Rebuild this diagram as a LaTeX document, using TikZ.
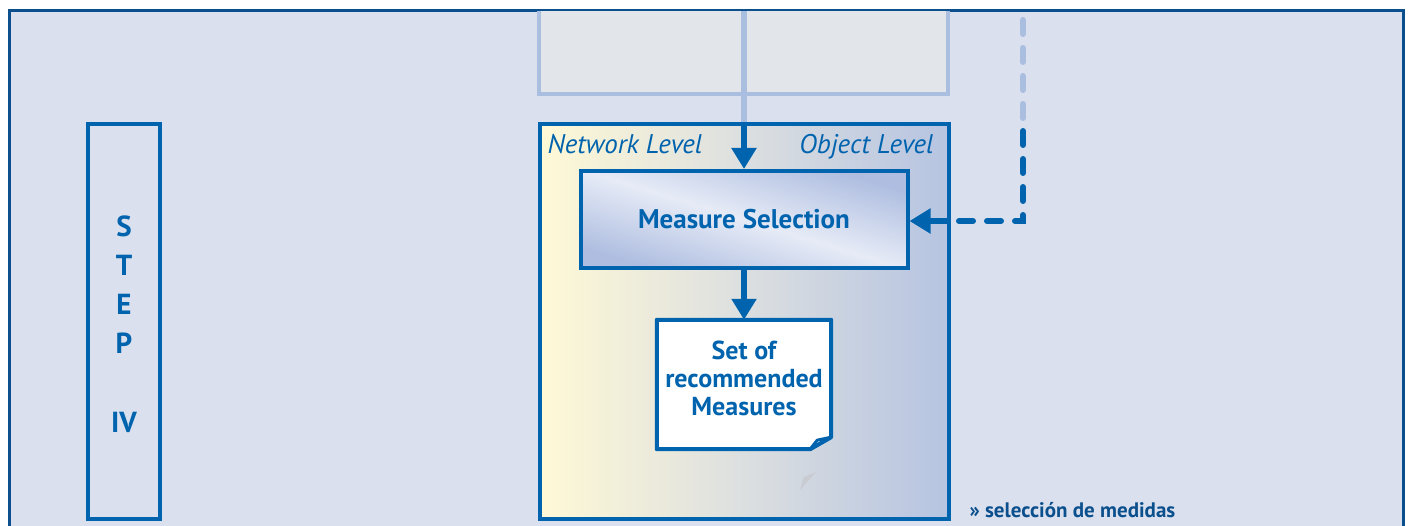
\documentclass[tikz,border=0pt]{standalone}
\usepackage{fontspec}
\setmainfont{PT Sans}
\usetikzlibrary{arrows.meta, positioning, calc}

\definecolor{framenavy}{HTML}{0B4F8D}
\definecolor{stepblue}{HTML}{0063AE}
\definecolor{panelbg}{HTML}{DAE0EE}
\definecolor{gridfill}{HTML}{E2E5EA}
\definecolor{gridline}{HTML}{AABEE0}
\definecolor{netyellow}{HTML}{FFF9D6}
\definecolor{levelmid}{HTML}{DCDFE0}
\definecolor{objblue}{HTML}{B6C4E1}
\definecolor{selmid}{HTML}{E6EBF6}
\definecolor{seledge}{HTML}{AEBDE0}
\definecolor{shadowgrey}{HTML}{C8CCD2}

\begin{document}
\begin{tikzpicture}[x=1pt, y=-1pt,
      frame/.style={rectangle, draw=stepblue, line width=4pt, inner sep=0pt},
      conn/.style={stepblue, line width=6pt, -{Triangle[width=24pt, length=21pt]}},
      feedback/.style={line width=6pt, line cap=round, dash pattern=on 14pt off 14pt},
      label/.style={text=stepblue, font=\fontsize{27}{32}\selectfont\bfseries}]

      \useasboundingbox (0,0) rectangle (1408,526);
      \fill[white] (0,0) rectangle (1408,526);

      % Panel
      \fill[panelbg] (9,11) rectangle (1403,526);
      \draw[framenavy, line width=3pt] (9,526) -- (9,11) -- (1403,11) -- (1403,526);

      % Upper grid (cut off by the panel)
      \fill[gridfill] (539,11) rectangle (948,94);
      \draw[gridline, line width=4.5pt] (539,11) -- (539,94) -- (948,94) -- (948,11);
      \coordinate (gridin) at (744,11);
      \coordinate (gridout) at (744,122);
      \draw[gridline, line width=6pt] (gridin) -- (gridout);

      % Step column
      \node[frame, minimum width=72.5pt, minimum height=394.5pt] (stepcol) at (123.75,321.75) {};
      \foreach \l [count=\i] in {S,T,E,P} {
        \node[label, anchor=base] (step\i) at (124,{237+38.7*(\i-1)}) {\fontsize{29}{32}\selectfont\l};
      }
      \node[label, anchor=base] (stepnum) at (124,432) {\fontsize{29}{32}\selectfont IV};

      % Levels box
      \node[frame, minimum width=409pt, minimum height=394.5pt,
            left color=netyellow, right color=objblue, middle color=levelmid] (levels) at (744,321.75) {};
      \node[text=stepblue, anchor=base west, font=\fontsize{27}{32}\selectfont\itshape] (netlvl) at (544,154) {Network Level};
      \node[text=stepblue, anchor=base east, font=\fontsize{27}{32}\selectfont\itshape] (objlvl) at (937,154) {Object Level};

      % Measure selection
      \node[frame, minimum width=327pt, minimum height=97pt,
            top color=seledge, bottom color=seledge, middle color=selmid, shading angle=-17, label] (select) at (744,219.5) {Measure Selection};

      % Recommended measures sheet
      \node[minimum width=174pt, minimum height=129pt, inner sep=0pt] (recs) at (744,384.5) {};
      \filldraw[fill=white, draw=stepblue, line width=4pt, line join=round]
        (recs.north west) -- (recs.north east) -- ([yshift=12pt]recs.south east)
        -- ([xshift=-21pt]recs.south east) -- (recs.south west) -- cycle;
      \draw[stepblue, line width=3pt, line join=round]
        ([yshift=12pt]recs.south east) -- ([xshift=-14pt, yshift=9pt]recs.south east) -- ([xshift=-21pt]recs.south east);
      \node[label, align=center, font=\fontsize{26}{28}\selectfont\bfseries] (recstext) at ([yshift=6.5pt]recs.center) {Set of\\recommended\\Measures};
      \fill[shadowgrey] (800,490) -- (816,472) -- (804,477) -- cycle;

      % Arrows
      \draw[conn] (gridout) -- (select.north);
      \draw[conn] (select.south) -- (recs.north);

      \coordinate (fbtop) at (1023,20);
      \coordinate (fbmid) at (1023,118);
      \coordinate (fbturn) at (1023,131);
      \coordinate (fbgate) at (950,221);
      \draw[gridline, feedback] (fbtop) -- (fbmid);
      \draw[stepblue, feedback] (fbturn) |- (fbgate);
      \draw[conn] (fbgate) -- (fbgate -| select.east);

      % Caption
      \node[anchor=base west, text=framenavy, font=\fontsize{21}{24}\selectfont\bfseries] (caption) at (966,517) {» selección de medidas};
    \end{tikzpicture}
\end{document}
